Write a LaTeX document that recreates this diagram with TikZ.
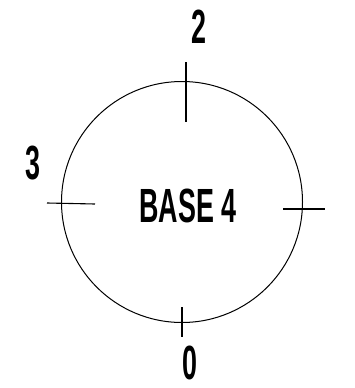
\documentclass[tikz,border=0pt]{standalone}
\usepackage{fontspec}
\setmainfont{Liberation Sans}
\begin{document}
\begin{tikzpicture}[x=1pt,y=-1pt,
  lbl/.style={inner sep=0pt,font=\fontsize{48}{48}\selectfont\bfseries,xscale=0.56},
  tick/.style={line width=1.1pt},
  ring/.style={draw,circle,line width=1pt,minimum size=241pt,inner sep=0pt}]
\useasboundingbox (0,0) rectangle (354,388);
\node[ring] (c) at (182,202) {};
\node[lbl] (base) at (188,206) {BASE 4};
\node[lbl] (l2) at (199,27) {2};
\node[lbl] (l3) at (33,163) {3};
\node[lbl] (l0) at (190,363) {0};
\coordinate (t1) at (186,62); \coordinate (t2) at (186,122);
\coordinate (a1) at (47,203); \coordinate (a2) at (95,204);
\coordinate (r1) at (283,209); \coordinate (r2) at (325,209);
\coordinate (b1) at (182,307); \coordinate (b2) at (182,337);
\draw[tick] (t1) -- (t2);
\draw[tick] (a1) -- (a2);
\draw[tick] (r1) -- (r2);
\draw[tick] (b1) -- (b2);
\end{tikzpicture}
\end{document}
